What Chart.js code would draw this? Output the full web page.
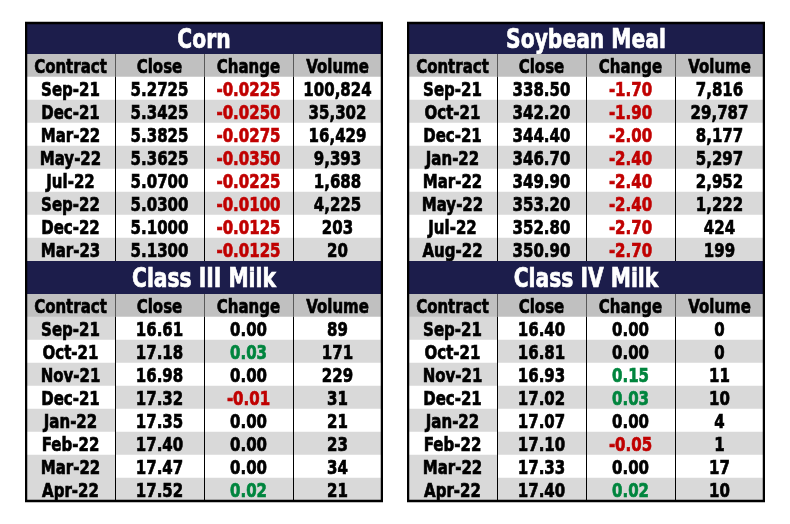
<!DOCTYPE html>
<html lang="en">
<head>
    <meta charset="UTF-8">
    <title>Futures Settlements</title>
    <script src="https://cdn.jsdelivr.net/npm/chart.js"></script>
    <style>
        body {
            margin: 0;
            background: #ffffff;
            width: 790px;
            height: 524px;
            position: relative;
            overflow: hidden;
        }

        .table-box {
            position: absolute;
            width: 358px;
        }

        .top { top: 21px; height: 240px; }
        .bottom { top: 261px; height: 242px; }
        .left { left: 25px; }
        .right { left: 407px; }
    </style>
</head>
<body>
<div class="table-box top left"><canvas id="cornChart"></canvas></div>
<div class="table-box top right"><canvas id="soyChart"></canvas></div>
<div class="table-box bottom left"><canvas id="class3Chart"></canvas></div>
<div class="table-box bottom right"><canvas id="class4Chart"></canvas></div>

<script>
    const columns = ["Contract", "Close", "Change", "Volume"];

    const cornContracts = ["Sep-21", "Dec-21", "Mar-22", "May-22", "Jul-22", "Sep-22", "Dec-22", "Mar-23"];
    const cornClose = [5.2725, 5.3425, 5.3825, 5.3625, 5.0700, 5.0300, 5.1000, 5.1300];
    const cornChange = [-0.0225, -0.0250, -0.0275, -0.0350, -0.0225, -0.0100, -0.0125, -0.0125];
    const cornVolume = [100824, 35302, 16429, 9393, 1688, 4225, 203, 20];

    const soyContracts = ["Sep-21", "Oct-21", "Dec-21", "Jan-22", "Mar-22", "May-22", "Jul-22", "Aug-22"];
    const soyClose = [338.50, 342.20, 344.40, 346.70, 349.90, 353.20, 352.80, 350.90];
    const soyChange = [-1.70, -1.90, -2.00, -2.40, -2.40, -2.40, -2.70, -2.70];
    const soyVolume = [7816, 29787, 8177, 5297, 2952, 1222, 424, 199];

    const class3Contracts = ["Sep-21", "Oct-21", "Nov-21", "Dec-21", "Jan-22", "Feb-22", "Mar-22", "Apr-22"];
    const class3Close = [16.61, 17.18, 16.98, 17.32, 17.35, 17.40, 17.47, 17.52];
    const class3Change = [0.00, 0.03, 0.00, -0.01, 0.00, 0.00, 0.00, 0.02];
    const class3Volume = [89, 171, 229, 31, 21, 23, 34, 21];

    const class4Contracts = ["Sep-21", "Oct-21", "Nov-21", "Dec-21", "Jan-22", "Feb-22", "Mar-22", "Apr-22"];
    const class4Close = [16.40, 16.81, 16.93, 17.02, 17.07, 17.10, 17.33, 17.40];
    const class4Change = [0.00, 0.00, 0.15, 0.03, 0.00, -0.05, 0.00, 0.02];
    const class4Volume = [0, 0, 11, 10, 4, 1, 17, 10];

    // row shading (true = grey)
    const plainStripe = [false, true, false, true, false, true, false, true];
    const milkContractStripe = [true, false, true, false, true, false, true, true];

    const FONT = "'DejaVu Sans', sans-serif";
    const SQUEEZE = 0.75;   // no condensed face installed, so narrow the glyphs by hand
    const NAVY = "#1c1d4b";
    const HEADER_GREY = "#c0c0c0";
    const ROW_GREY = "#d9d9d9";
    const RED = "#c00000";
    const GREEN = "#00853e";

    function squeezedText(ctx, text, cx, baseline, sx, color) {
        ctx.save();
        ctx.translate(cx, baseline);
        ctx.scale(sx, 1);
        ctx.fillStyle = color;
        ctx.strokeStyle = color;
        ctx.lineWidth = 0.7;
        ctx.fillText(text, 0, 0);
        ctx.strokeText(text, 0, 0);
        ctx.restore();
    }

    const tablePlugin = {
        id: "tablePlugin",
        beforeDraw(chart) {
            const ctx = chart.ctx;
            const area = chart.chartArea;
            const tb = chart.titleBlock;
            ctx.save();
            ctx.fillStyle = NAVY;
            ctx.fillRect(area.left, tb.top, area.right - area.left, tb.bottom - tb.top);
            ctx.font = "bold 26px " + FONT;
            ctx.textAlign = "center";
            ctx.textBaseline = "alphabetic";
            const mid = (tb.top + tb.bottom) / 2;
            squeezedText(ctx, chart.options.plugins.title.text, (area.left + area.right) / 2, mid + 9, 0.78, "#ffffff");
            ctx.restore();
        },
        afterDatasetsDraw(chart, args, opts) {
            const ctx = chart.ctx;
            const area = chart.chartArea;
            const x = chart.scales.x;
            ctx.save();
            ctx.textAlign = "center";
            ctx.textBaseline = "alphabetic";
            ctx.font = "bold 20px " + FONT;

            // cell texts, centred on each bar
            chart.data.datasets.forEach((ds, c) => {
                const meta = chart.getDatasetMeta(c);
                meta.data.forEach((bar, r) => {
                    const p = bar.getProps(["x", "y", "base"], true);
                    squeezedText(ctx, ds.texts[r], (p.x + p.base) / 2, p.y + 7, SQUEEZE, ds.textColors[r]);
                });
            });

            // column dividers
            const head = chart.getDatasetMeta(0).data[0];
            const headBottom = head.y + head.height / 2;
            for (let k = 1; k < columns.length; k++) {
                const px = Math.round(x.getPixelForValue(k)) + 0.5;
                ctx.lineWidth = 1;
                ctx.strokeStyle = "#595959";
                ctx.beginPath();
                ctx.moveTo(px, area.top);
                ctx.lineTo(px, headBottom);
                ctx.stroke();
                ctx.strokeStyle = "#000000";
                ctx.beginPath();
                ctx.moveTo(px, headBottom);
                ctx.lineTo(px, area.bottom);
                ctx.stroke();
            }

            // outer frame
            const top = chart.titleBlock.top;
            ctx.lineWidth = 2.5;
            ctx.strokeStyle = "#000000";
            ctx.beginPath();
            ctx.moveTo(area.left, top - 1);
            ctx.lineTo(area.left, area.bottom + 1);
            ctx.moveTo(area.right, top - 1);
            ctx.lineTo(area.right, area.bottom + 1);
            if (opts.edge === "top") {
                ctx.moveTo(area.left - 1, top);
                ctx.lineTo(area.right + 1, top);
            } else {
                ctx.moveTo(area.left - 1, area.bottom);
                ctx.lineTo(area.right + 1, area.bottom);
            }
            ctx.stroke();
            ctx.restore();
        }
    };

    function changeColor(v) {
        if (v < 0) return RED;
        if (v > 0) return GREEN;
        return "#000000";
    }

    function makeTable(id, title, contracts, close, change, volume, decimals, edge, contractStripe) {
        const rows = ["header"].concat(contracts);
        const cells = [
            contracts,
            close.map(v => v.toFixed(decimals)),
            change.map(v => v.toFixed(decimals)),
            volume.map(v => v.toLocaleString("en-US"))
        ];
        const datasets = columns.map((name, c) => {
            const stripe = c === 0 ? contractStripe : plainStripe;
            return {
                label: name,
                data: rows.map(() => [c, c + 1]),
                backgroundColor: rows.map((_, r) => r === 0 ? HEADER_GREY : (stripe[r - 1] ? ROW_GREY : "#ffffff")),
                borderWidth: 0,
                barPercentage: 1,
                categoryPercentage: 1,
                grouped: false,
                texts: [name].concat(cells[c]),
                textColors: rows.map((_, r) => (c === 2 && r > 0) ? changeColor(change[r - 1]) : "#000000")
            };
        });

        const topPad = edge === "top" ? 2 : 0;
        const titleLine = edge === "top" ? "29px" : "31px";

        new Chart(document.getElementById(id), {
            type: "bar",
            data: { labels: rows, datasets: datasets },
            options: {
                indexAxis: "y",
                responsive: true,
                maintainAspectRatio: false,
                animation: false,
                events: [],
                layout: { padding: { left: 1, right: 1, top: topPad, bottom: edge === "top" ? 0 : 2 } },
                scales: {
                    x: { type: "linear", min: 0, max: columns.length, display: false },
                    y: { type: "category", display: false, offset: true }
                },
                plugins: {
                    legend: { display: false },
                    tooltip: { enabled: false },
                    title: {
                        display: true,
                        text: title,
                        color: "rgba(0,0,0,0)",
                        font: { family: FONT, size: 25, weight: "bold", lineHeight: titleLine },
                        padding: { top: 1, bottom: 1 }
                    },
                    tablePlugin: { edge: edge }
                }
            },
            plugins: [tablePlugin]
        });
    }

    makeTable("cornChart", "Corn", cornContracts, cornClose, cornChange, cornVolume, 4, "top", plainStripe);
    makeTable("soyChart", "Soybean Meal", soyContracts, soyClose, soyChange, soyVolume, 2, "top", plainStripe);
    makeTable("class3Chart", "Class III Milk", class3Contracts, class3Close, class3Change, class3Volume, 2, "bottom", milkContractStripe);
    makeTable("class4Chart", "Class IV Milk", class4Contracts, class4Close, class4Change, class4Volume, 2, "bottom", milkContractStripe);
</script>
</body>
</html>
